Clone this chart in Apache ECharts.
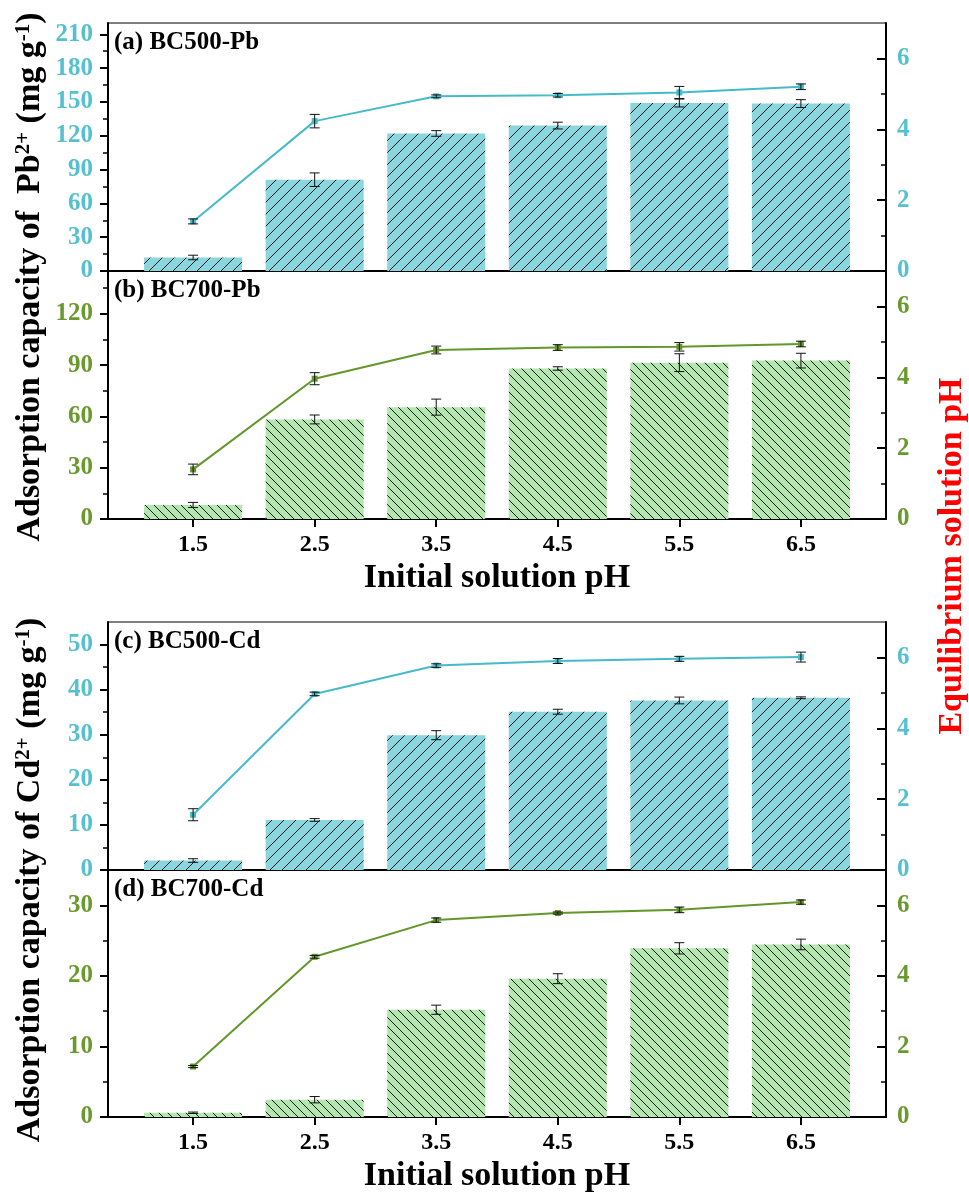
<!DOCTYPE html>
<html>
<head>
<meta charset="utf-8">
<title>Effect of initial pH on Pb2+ and Cd2+ adsorption</title>
<script src="https://cdn.jsdelivr.net/npm/echarts@6/dist/echarts.min.js"></script>
<style>
  html, body { margin: 0; padding: 0; background: #fff; }
  #main { width: 969px; height: 1200px; }
</style>
</head>
<body>
<div id="main"></div>
<script>
// initial solution pH (x positions of the groups)
var phInit = [1.5, 2.5, 3.5, 4.5, 5.5, 6.5];

// (a) BC500-Pb
var aBar = [12, 81, 122, 129, 149, 148.5];
var aBarErr = [2, 6, 2.5, 3, 3.5, 3.5];
var aPH = [1.40, 4.23, 4.93, 4.96, 5.04, 5.20];
var aPHErr = [0.07, 0.19, 0.04, 0.05, 0.17, 0.08];

// (b) BC700-Pb
var bBar = [8.2, 58.2, 65.4, 88, 91.4, 92.6];
var bBarErr = [1.5, 2.6, 4.7, 1, 5.2, 4.3];
var bPH = [1.40, 3.96, 4.77, 4.84, 4.86, 4.94];
var bPHErr = [0.15, 0.17, 0.11, 0.08, 0.12, 0.08];

// (c) BC500-Cd
var cBar = [2.1, 11.1, 29.9, 35.1, 37.6, 38.2];
var cBarErr = [0.4, 0.3, 1.0, 0.55, 0.75, 0.2];
var cPH = [1.56, 4.97, 5.77, 5.90, 5.96, 6.01];
var cPHErr = [0.17, 0.05, 0.05, 0.07, 0.07, 0.14];

// (d) BC700-Cd
var dBar = [0.6, 2.45, 15.2, 19.6, 23.9, 24.45];
var dBarErr = [0.1, 0.45, 0.65, 0.7, 0.8, 0.75];
var dPH = [1.43, 4.54, 5.58, 5.78, 5.87, 6.09];
var dPHErr = [0.03, 0.04, 0.06, 0.03, 0.08, 0.06];

// tick labels
var aTicks = [0, 30, 60, 90, 120, 150, 180, 210];
var aMinor = [15, 45, 75, 105, 135, 165, 195];
var bTicks = [0, 30, 60, 90, 120];
var bMinor = [15, 45, 75, 105, 135];
var cTicks = [0, 10, 20, 30, 40, 50];
var cMinor = [5, 15, 25, 35, 45];
var dTicks = [0, 10, 20, 30];
var dMinor = [5, 15, 25];
var phTicks = [0, 2, 4, 6];
var phMinor = [1, 3, 5];

var FONT = "'Times New Roman', 'Liberation Serif', serif";
var cyan = { bar: '#89D6DF', line: '#47BACA', text: '#55C0CF', dir: 1, step: 12 };
var green = { bar: '#B4E6AF', line: '#63972A', text: '#6A9A2E', dir: -1, step: 9 };

function hatch(bg, dir, step) {
	var c = document.createElement('canvas');
	c.width = step;
	c.height = step;
	var ctx = c.getContext('2d');
	ctx.fillStyle = bg;
	ctx.fillRect(0, 0, step, step);
	ctx.strokeStyle = '#1b1b1b';
	ctx.lineWidth = 1;
	ctx.beginPath();
	if (dir > 0) { // "/"
		ctx.moveTo(-1, step + 1); ctx.lineTo(step + 1, -1);
		ctx.moveTo(-1, 1); ctx.lineTo(1, -1);
		ctx.moveTo(step - 1, step + 1); ctx.lineTo(step + 1, step - 1);
	} else { // "\"
		ctx.moveTo(-1, -1); ctx.lineTo(step + 1, step + 1);
		ctx.moveTo(step - 1, -1); ctx.lineTo(step + 1, 1);
		ctx.moveTo(-1, step - 1); ctx.lineTo(1, step + 1);
	}
	ctx.stroke();
	return c;
}

function pairs(xs, ys) {
	return xs.map(function (x, i) { return [x, ys[i]]; });
}
function triples(xs, ys, es) {
	return xs.map(function (x, i) { return [x, ys[i], es[i]]; });
}

function errorBar(params, api) {
	var x = api.value(0), y = api.value(1), e = api.value(2);
	var p1 = api.coord([x, y + e]);
	var p2 = api.coord([x, y - e]);
	var hw = 5;
	var st = { stroke: '#111', lineWidth: 1 };
	return {
		type: 'group',
		children: [
			{ type: 'line', shape: { x1: p1[0], y1: p1[1], x2: p2[0], y2: p2[1] }, style: st },
			{ type: 'line', shape: { x1: p1[0] - hw, y1: p1[1], x2: p1[0] + hw, y2: p1[1] }, style: st },
			{ type: 'line', shape: { x1: p2[0] - hw, y1: p2[1], x2: p2[0] + hw, y2: p2[1] }, style: st }
		]
	};
}

var panels = [
	{ title: '(a) BC500-Pb', top: 23, height: 248, bar: aBar, barErr: aBarErr, ph: aPH, phErr: aPHErr, max: 220, ticks: aTicks, minor: aMinor, theme: cyan, showX: false },
	{ title: '(b) BC700-Pb', top: 271, height: 248, bar: bBar, barErr: bBarErr, ph: bPH, phErr: bPHErr, max: 145, ticks: bTicks, minor: bMinor, theme: green, showX: true },
	{ title: '(c) BC500-Cd', top: 622, height: 248, bar: cBar, barErr: cBarErr, ph: cPH, phErr: cPHErr, max: 55, ticks: cTicks, minor: cMinor, theme: cyan, showX: false },
	{ title: '(d) BC700-Cd', top: 870, height: 247, bar: dBar, barErr: dBarErr, ph: dPH, phErr: dPHErr, max: 35, ticks: dTicks, minor: dMinor, theme: green, showX: true }
];

var labelStyle = { fontFamily: FONT, fontWeight: 'bold', fontSize: 25 };
var grids = [], xAxes = [], yAxes = [], series = [], titles = [];

panels.forEach(function (p, i) {
	grids[i] = { left: 108, right: 83, top: p.top, height: p.height, show: true, borderColor: '#000', borderWidth: 1 };
	// overlay grid carrying only the short minor ticks
	grids[i + 4] = { left: 108, right: 83, top: p.top, height: p.height, show: false };

	xAxes[i] = {
		type: 'value', gridIndex: i, min: 0.8, max: 7.2,
		name: p.showX ? 'Initial solution pH' : '',
		nameLocation: 'middle', nameGap: 42,
		nameTextStyle: { fontFamily: FONT, fontWeight: 'bold', fontSize: 34, color: '#000' },
		axisLine: { onZero: false, lineStyle: { color: '#000', width: 2 } },
		axisTick: { show: p.showX, customValues: phInit, length: 8, lineStyle: { color: '#000', width: 2 } },
		axisLabel: { show: p.showX, customValues: phInit, margin: 14, color: '#000', fontFamily: FONT, fontWeight: 'bold', fontSize: 24 },
		splitLine: { show: false }
	};
	xAxes[i + 4] = { type: 'value', gridIndex: i + 4, min: 0.8, max: 7.2, show: false };

	yAxes[2 * i] = {
		type: 'value', gridIndex: i, position: 'left', min: 0, max: p.max,
		axisLine: { show: true, lineStyle: { color: '#000', width: 2 } },
		axisTick: { show: true, customValues: p.ticks, length: 8, lineStyle: { color: '#000', width: 2 } },
		axisLabel: Object.assign({ customValues: p.ticks, margin: 15, color: p.theme.text }, labelStyle),
		splitLine: { show: false }
	};
	yAxes[2 * i + 1] = {
		type: 'value', gridIndex: i, position: 'right', min: 0, max: 7,
		axisLine: { show: true, lineStyle: { color: '#000', width: 2 } },
		axisTick: { show: true, inside: true, customValues: phTicks, length: 9, lineStyle: { color: '#000', width: 2 } },
		axisLabel: Object.assign({ customValues: phTicks, margin: 11, color: p.theme.text }, labelStyle),
		splitLine: { show: false }
	};
	yAxes[8 + 2 * i] = {
		type: 'value', gridIndex: i + 4, position: 'left', min: 0, max: p.max,
		axisLine: { show: false },
		axisTick: { show: true, customValues: p.minor, length: 5, lineStyle: { color: '#000', width: 1.5 } },
		axisLabel: { show: false }, splitLine: { show: false }
	};
	yAxes[9 + 2 * i] = {
		type: 'value', gridIndex: i + 4, position: 'right', min: 0, max: 7,
		axisLine: { show: false },
		axisTick: { show: true, inside: true, customValues: phMinor, length: 5, lineStyle: { color: '#000', width: 1.5 } },
		axisLabel: { show: false }, splitLine: { show: false }
	};

	series.push({
		type: 'bar', xAxisIndex: i, yAxisIndex: 2 * i, barWidth: 98, z: 1,
		data: pairs(phInit, p.bar),
		itemStyle: { color: { image: hatch(p.theme.bar, p.theme.dir, p.theme.step), repeat: 'repeat' } }
	});
	series.push({
		type: 'custom', xAxisIndex: i, yAxisIndex: 2 * i, z: 5,
		data: triples(phInit, p.bar, p.barErr), renderItem: errorBar, encode: { x: 0, y: 1 }
	});
	series.push({
		type: 'line', xAxisIndex: i, yAxisIndex: 2 * i + 1, z: 3,
		data: pairs(phInit, p.ph), symbol: 'rect', symbolSize: 6,
		lineStyle: { color: p.theme.line, width: 2 },
		itemStyle: { color: p.theme.line }
	});
	series.push({
		type: 'custom', xAxisIndex: i, yAxisIndex: 2 * i + 1, z: 6,
		data: triples(phInit, p.ph, p.phErr), renderItem: errorBar, encode: { x: 0, y: 1 }
	});

	titles.push({
		text: p.title, left: 114, top: p.top + 7, padding: 0,
		textStyle: { fontFamily: FONT, fontWeight: 'bold', fontSize: 25, color: '#000' }
	});
});

var rich = {
	n: { fontFamily: FONT, fontWeight: 'bold', fontSize: 34, fill: '#000', color: '#000' },
	s: { fontFamily: FONT, fontWeight: 'bold', fontSize: 21, fill: '#000', color: '#000', verticalAlign: 'top' }
};

function vText(x, y, text, extra) {
	var st = { text: text, align: 'center', textAlign: 'center', verticalAlign: 'middle', textVerticalAlign: 'middle' };
	Object.assign(st, extra);
	return { type: 'text', x: x, y: y, rotation: Math.PI / 2, style: st, z: 10 };
}

var chart = echarts.init(document.getElementById('main'), null, { renderer: 'canvas' });
chart.setOption({
	animation: false,
	backgroundColor: '#fff',
	title: titles,
	grid: grids,
	xAxis: xAxes,
	yAxis: yAxes,
	series: series,
	graphic: [
		vText(30, 277, '{n|Adsorption capacity of  Pb}{s|2+}{n| (mg g}{s|-1}{n|)}', { rich: rich }),
		vText(30, 880, '{n|Adsorption capacity of Cd}{s|2+}{n| (mg g}{s|-1}{n|)}', { rich: rich }),
		vText(952, 556, 'Equilibrium solution pH', { fill: '#ff0000', font: 'bold 34px ' + FONT })
	]
});
</script>
</body>
</html>
